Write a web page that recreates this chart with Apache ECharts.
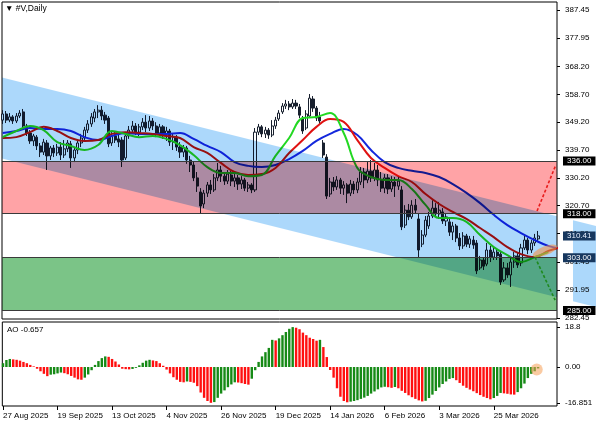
<!DOCTYPE html>
<html><head><meta charset="utf-8">
<script src="https://cdn.jsdelivr.net/npm/echarts@6/dist/echarts.min.js"></script>
<style>html,body{margin:0;padding:0;background:#fff}#c{width:596px;height:425px}</style>
</head><body><div id="c"></div>
<script>
// ---- daily candles (bar index 0 = 27 Aug 2025) ----
const opens = [349.9,352.0,349.9,351.0,349.6,351.3,352.7,347.9,345.5,342.8,
344.1,341.1,339.0,342.1,337.7,340.4,338.7,340.7,338.0,340.1,
341.8,337.0,339.7,342.1,343.8,346.5,348.6,350.6,352.7,353.3,
351.6,350.6,342.1,344.5,343.5,343.1,337.0,344.5,346.5,347.9,
345.8,347.6,349.2,347.2,349.6,347.9,345.5,347.6,345.2,346.2,
342.4,344.1,340.7,339.0,340.4,336.3,334.6,330.2,325.4,321.3,
325.0,327.8,326.1,330.2,332.9,330.8,329.1,331.2,329.1,330.2,
328.1,329.5,326.7,327.8,326.1,345.8,347.6,345.2,346.5,344.8,
347.9,350.3,352.7,354.7,355.4,354.4,355.7,354.4,350.6,347.2,
351.3,357.1,354.0,351.0,342.1,337.3,324.7,328.8,327.1,329.5,
326.7,327.8,325.0,328.1,326.1,328.8,332.2,329.5,332.5,330.2,
332.9,329.5,326.7,330.2,326.4,328.8,327.4,326.1,314.1,319.2,
316.9,320.9,316.2,307.6,310.7,313.8,317.2,319.9,317.9,318.6,
315.5,315.2,311.7,313.8,309.7,307.0,310.4,307.6,309.0,308.0,
299.5,302.2,300.8,305.6,303.2,304.9,304.2,295.4,299.5,297.1,
301.5,303.6,301.2,306.3,309.0,305.6,308.0,309.4];
const highs = [353.3,353.0,352.3,351.6,352.3,353.3,353.7,348.6,346.5,345.2,
344.8,342.1,343.5,343.1,341.1,341.4,341.8,342.4,343.1,343.1,
342.8,340.7,343.1,345.2,347.6,349.9,352.3,353.7,355.0,354.7,
352.7,351.3,345.8,346.2,345.2,344.1,345.5,347.9,349.6,348.9,
348.6,350.6,351.6,351.3,350.6,349.2,348.6,348.2,347.6,346.9,
345.5,344.8,342.4,341.4,341.1,337.7,335.6,332.2,326.7,326.1,
328.8,329.5,331.5,335.3,334.3,332.2,332.9,332.5,331.5,331.2,
330.8,330.2,328.8,328.4,347.2,348.6,348.2,347.6,347.2,349.9,
351.0,353.3,355.7,356.8,356.4,357.1,356.8,355.4,351.3,353.3,
358.8,358.1,354.7,352.7,343.1,338.3,330.2,330.5,330.8,330.2,
329.1,328.4,329.5,329.1,330.2,333.9,333.6,335.6,336.3,335.3,
334.6,332.2,331.5,331.5,330.8,330.5,330.8,327.4,320.9,321.3,
322.6,323.0,317.9,312.4,317.2,318.6,322.6,321.6,322.0,319.9,
318.2,316.5,315.2,314.5,311.4,311.7,311.1,310.4,310.4,309.0,
303.6,303.2,308.0,307.0,306.3,306.0,305.3,301.5,301.2,303.2,
304.9,304.6,307.7,310.4,309.7,309.0,311.1,312.1];
const lows = [348.6,348.9,349.2,348.6,348.9,350.6,347.2,344.5,341.8,341.1,
339.7,337.3,338.0,332.9,336.3,337.3,337.7,336.3,337.0,339.0,
333.6,335.6,338.3,340.7,342.8,345.5,347.6,349.2,350.6,349.9,
348.6,340.7,341.1,342.1,340.7,333.9,336.3,343.5,345.2,344.8,
344.5,346.5,345.8,346.2,346.5,344.1,344.5,343.5,342.8,341.1,
339.7,339.4,337.0,337.3,335.0,332.2,329.1,325.4,318.2,319.9,
323.7,324.7,325.4,329.1,328.8,327.8,328.1,327.4,327.1,326.1,
326.4,325.7,325.4,325.0,325.4,344.8,344.1,343.8,343.5,344.1,
346.9,349.6,352.0,353.7,353.3,353.7,353.7,350.6,345.2,346.5,
350.6,352.7,349.6,348.6,337.0,323.0,323.7,325.7,326.1,324.7,
324.4,321.6,324.0,324.7,325.0,327.8,326.7,328.4,328.8,329.1,
327.4,325.4,325.0,324.7,325.4,323.7,326.1,312.4,313.1,315.8,
316.2,318.2,303.2,306.6,310.0,312.8,316.5,316.9,316.2,314.5,
313.8,310.4,309.0,308.3,305.6,306.0,306.6,306.3,306.0,297.4,
298.8,298.8,300.1,301.5,302.2,302.2,293.7,294.7,296.1,293.0,
299.5,299.5,300.1,305.6,304.2,304.6,307.0,308.7];
const closes = [352.0,349.9,351.0,349.6,351.3,352.3,347.9,345.5,342.8,344.5,
341.1,339.0,342.4,337.7,340.4,338.7,340.7,338.0,340.1,342.1,
337.0,339.7,342.1,343.8,346.5,348.6,351.0,352.7,353.3,351.3,
349.9,341.8,344.5,343.1,342.4,336.3,344.5,346.5,347.9,345.8,
347.6,349.2,347.2,349.6,347.9,345.5,347.6,345.2,346.2,342.4,
344.1,340.7,339.0,340.4,336.3,334.6,330.2,327.4,320.6,325.0,
327.8,326.1,330.2,332.9,330.8,329.1,331.5,329.1,330.2,328.1,
329.5,326.7,327.8,326.1,345.8,347.6,345.2,346.5,344.8,347.9,
349.9,352.3,354.7,355.4,354.4,355.7,354.7,351.6,346.2,352.0,
357.4,354.0,350.6,349.6,338.0,324.0,328.8,327.1,329.5,326.7,
327.8,325.0,328.1,326.1,328.8,332.2,329.5,332.5,330.2,332.9,
329.5,326.7,330.2,326.4,328.8,327.4,329.1,313.5,319.2,316.9,
320.9,319.2,305.6,310.7,315.8,317.2,319.9,317.9,319.2,315.5,
316.9,311.7,313.8,309.7,307.0,310.4,307.6,309.4,307.3,298.5,
302.2,300.1,305.6,303.2,304.9,303.6,294.7,299.5,297.1,301.5,
303.6,300.5,306.3,309.0,305.6,308.0,309.7,310.41];

// ---- Awesome Oscillator ----
const aoValues = [1.8,3.3,3.8,3.6,3.4,3.0,2.4,1.8,1.0,0.3,
-0.8,-2.0,-3.2,-4.3,-3.6,-3.4,-3.0,-2.6,-2.9,-3.4,
-4.2,-5.0,-5.8,-6.0,-5.0,-3.5,-1.5,1.0,2.8,4.2,
5.0,4.8,3.8,2.6,1.2,-0.8,-1.0,-1.1,-0.9,-0.4,
0.8,2.0,3.0,3.4,3.1,2.8,1.8,0.6,-1.2,-3.0,
-4.8,-6.0,-7.0,-7.2,-6.8,-7.0,-7.4,-9.0,-12.0,-14.5,
-16.0,-16.851,-16.5,-14.5,-12.5,-11.0,-9.5,-8.2,-7.2,-7.3,
-7.6,-8.0,-8.3,-5.5,-1.5,2.4,5.0,7.0,9.0,12.8,
12.5,13.5,15.0,16.5,18.0,18.8,18.5,17.8,16.2,15.0,
13.8,13.2,12.4,12.8,9.4,4.7,-1.4,-5.0,-10.0,-14.0,
-16.0,-16.6,-16.3,-16.0,-15.6,-15.0,-14.4,-13.6,-12.5,-11.5,
-10.5,-9.6,-9.3,-9.5,-9.8,-9.4,-10.0,-11.2,-12.2,-13.3,
-14.2,-15.0,-15.7,-16.2,-15.9,-14.6,-13.0,-11.3,-9.6,-8.0,
-6.8,-5.6,-5.2,-6.2,-7.5,-8.8,-9.8,-10.6,-11.4,-12.3,
-13.2,-14.0,-14.6,-15.2,-14.6,-13.6,-12.2,-12.4,-12.6,-12.9,
-13.0,-11.8,-10.0,-7.8,-5.2,-3.2,-2.0,-0.657];

// ---- Alligator lines (sampled every 4 bars, shifted lines run past the last bar) ----
const lineIdx = [0,4,8,12,16,20,24,28,32,36,40,44,48,52,56,60,64,68,72,76,80,84,88,92,96,100,104,108,112,116,120,124,128,132,136,140,144,148,152,156,160,164];
const jaw = [345.5,346.2,347.2,346.9,346.9,346.2,344.1,343.1,344.5,345.5,
345.2,345.2,345.2,345.5,343.5,341.1,339.0,335.6,334.3,333.9,
334.6,336.6,339.4,342.8,345.2,346.9,344.8,339.7,335.6,333.6,
332.6,331.9,330.5,328.1,325.1,321.6,317.6,314.1,311.4,309.0,
307.0,306.0];
const teeth = [343.8,344.1,345.8,347.6,346.2,343.8,342.8,343.1,345.2,345.8,
345.5,345.2,344.5,343.8,340.7,338.7,335.3,332.2,331.2,331.5,
333.6,338.7,343.1,347.6,350.3,349.3,343.1,337.0,333.6,330.8,
328.8,324.7,321.3,318.6,316.2,313.1,310.0,306.6,304.2,303.2,
305.3,306.6];
const lips = [344.1,346.2,347.9,346.5,342.4,341.1,339.7,341.4,346.2,345.2,
344.1,344.5,343.5,341.4,338.0,333.9,331.9,331.9,330.8,331.2,
337.7,343.8,350.6,351.0,352.3,345.5,333.6,330.5,329.5,329.5,
326.4,321.0,316.5,316.5,315.2,310.7,306.6,303.9,301.5,303.2,
304.9,null];

// ---- axis ticks ----
const dateTickIdx = [0,16,32,48,64,80,96,112,128,144];
const dateLabels = ['27 Aug 2025','19 Sep 2025','13 Oct 2025','4 Nov 2025','26 Nov 2025','19 Dec 2025','14 Jan 2026','6 Feb 2026','3 Mar 2026','25 Mar 2026'];
const priceTicks = [387.45,377.95,368.20,358.70,349.20,339.70,330.20,320.70,311.20,301.45,291.95,282.45];
const aoTicks = [18.8, 0, -16.851];
const aoTickLabels = ['18.8','0.00','-16.851'];

// ---- drawn objects ----
const levels = [336.00, 318.00, 303.00, 285.00];
const levelBg = ['#000000','#000000','#17375e','#000000'];
const lastPrice = 310.41;
const zoneLow = [318, 285];
const zoneHigh = [336, 303];
const zoneColors = ['#ffa3a6', '#7bc487'];
const channelIdx = [-1, 175];
const channelTop = [364.65, 313.49];
const channelBottom = [337.03, 285.87];
const arrowUp = [[156.7, 318.9], [162.2, 334.6]];
const arrowDown = [[156.1, 303.2], [162.0, 288.5]];
const highlightMain = [159, 305.3];
const highlightAO = [156.6, -1.2];

const FONT = '"Liberation Sans", Arial, sans-serif';
const X_MIN = -0.2, X_MAX = 162.55;

const chart = echarts.init(document.getElementById('c'), null, {renderer: 'canvas'});

const candleData = opens.map((o, i) => [i, o, closes[i], lows[i], highs[i]]);
const lineData = arr => lineIdx.map((x, k) => [x, arr[k]]);
const aoData = aoValues.map((v, i) => [i, v]);

function channelPoints(api) {
  return [
    api.coord([channelIdx[0], channelTop[0]]),
    api.coord([channelIdx[1], channelTop[1]]),
    api.coord([channelIdx[1], channelBottom[1]]),
    api.coord([channelIdx[0], channelBottom[0]])
  ];
}

const option = {
  backgroundColor: '#ffffff',
  animation: false,
  title: [
    {text: '\u25BC #V,Daily', left: 5, top: 4, padding: 0,
     textStyle: {fontSize: 8.5, fontWeight: 'normal', color: '#000', fontFamily: FONT}},
    {text: 'AO -0.657', left: 7, top: 326, padding: 0,
     textStyle: {fontSize: 8, fontWeight: 'normal', color: '#000', fontFamily: FONT}}
  ],
  grid: [
    {left: 2, right: 39, top: 2, bottom: 106, show: true, borderColor: '#000', borderWidth: 1},
    {left: 2, right: 39, top: 322, bottom: 19, show: true, borderColor: '#000', borderWidth: 1}
  ],
  xAxis: [
    {type: 'value', gridIndex: 0, min: X_MIN, max: X_MAX, show: false, axisLine: {onZero: false}},
    {type: 'value', gridIndex: 1, min: X_MIN, max: X_MAX,
     axisLine: {show: false, onZero: false}, splitLine: {show: false},
     axisTick: {show: true, customValues: dateTickIdx, length: 4, lineStyle: {color: '#000'}},
     axisLabel: {customValues: dateTickIdx, formatter: v => dateLabels[dateTickIdx.indexOf(v)],
       align: 'left', fontSize: 8, margin: 6, color: '#000', fontFamily: FONT}}
  ],
  yAxis: [
    {type: 'value', gridIndex: 0, position: 'right', min: 282.08, max: 390.18,
     axisLine: {show: false, onZero: false}, splitLine: {show: false},
     axisTick: {show: true, customValues: priceTicks, length: 3, lineStyle: {color: '#000'}},
     axisLabel: {customValues: priceTicks, formatter: v => v.toFixed(2), fontSize: 8, margin: 8,
       color: '#000', fontFamily: FONT}},
    {type: 'value', gridIndex: 1, position: 'right', min: -18.35, max: 21.2,
     axisLine: {show: false, onZero: false}, splitLine: {show: false},
     axisTick: {show: true, customValues: aoTicks, length: 3, lineStyle: {color: '#000'}},
     axisLabel: {customValues: aoTicks, formatter: v => aoTickLabels[aoTicks.indexOf(v)], fontSize: 8, margin: 8,
       color: '#000', fontFamily: FONT}}
  ],
  series: [
    {
      type: 'candlestick', xAxisIndex: 0, yAxisIndex: 0, z: 2,
      data: candleData, barWidth: 2.6,
      encode: {x: 0, y: [1, 2, 3, 4]},
      itemStyle: {color: '#ffffff', color0: '#18202e', borderColor: '#18202e', borderColor0: '#18202e', borderWidth: 1}
    },
    {type: 'line', xAxisIndex: 0, yAxisIndex: 0, z: 3, data: lineData(jaw), showSymbol: false, smooth: 0.4,
     lineStyle: {color: '#1428dc', width: 2}},
    {type: 'line', xAxisIndex: 0, yAxisIndex: 0, z: 3, data: lineData(teeth), showSymbol: false, smooth: 0.4,
     lineStyle: {color: '#e01212', width: 2}},
    {type: 'line', xAxisIndex: 0, yAxisIndex: 0, z: 3, data: lineData(lips), showSymbol: false, smooth: 0.4,
     lineStyle: {color: '#22d822', width: 2}},
    {
      type: 'custom', xAxisIndex: 0, yAxisIndex: 0, z: 4, silent: true, clip: true, blendMode: 'multiply',
      data: zoneLow.map((l, k) => [0, l, zoneHigh[k]]),
      encode: {x: 0, y: [1, 2]},
      renderItem: function (params, api) {
        const cs = params.coordSys;
        const yTop = api.coord([0, api.value(2)])[1];
        const yBot = api.coord([0, api.value(1)])[1];
        return {type: 'rect', shape: {x: cs.x, y: yTop, width: cs.width, height: yBot - yTop},
          style: {fill: zoneColors[params.dataIndex]}};
      }
    },
    {
      type: 'custom', xAxisIndex: 0, yAxisIndex: 0, z: 4, silent: true, clip: true, blendMode: 'multiply',
      data: [[channelIdx[0], channelTop[0], channelBottom[0]]],
      encode: {x: 0, y: [1, 2]},
      renderItem: function (params, api) {
        return {type: 'polygon', shape: {points: channelPoints(api)},
          style: {fill: '#acd8fb'}};
      }
    },
    {
      // continuation of the channel drawn in the right margin behind the price scale
      type: 'custom', xAxisIndex: 0, yAxisIndex: 0, z: 4, silent: true, clip: false, blendMode: 'multiply',
      data: [[channelIdx[1], channelTop[1], channelBottom[1]]],
      encode: {x: 0, y: [1, 2]},
      renderItem: function (params, api) {
        const cs = params.coordSys;
        const p = channelPoints(api);
        const xs = cs.x + cs.width + 16;
        const t = (xs - p[0][0]) / (p[1][0] - p[0][0]);
        const yT = p[0][1] + t * (p[1][1] - p[0][1]);
        const yB = p[3][1] + t * (p[2][1] - p[3][1]);
        return {type: 'polygon', shape: {points: [[xs, yT], p[1], p[2], [xs, yB]]},
          style: {fill: '#acd8fb'}};
      }
    },
    {
      // horizontal levels and their price boxes
      type: 'line', xAxisIndex: 0, yAxisIndex: 0, z: 5, data: [], silent: true,
      markLine: {
        silent: true, symbol: ['none', 'none'], z: 5, animation: false,
        label: {position: 'end', distance: 6, formatter: p => Number(p.value).toFixed(2),
          color: '#ffffff', fontSize: 8, fontFamily: FONT, padding: [1, 4, 0, 4], lineHeight: 8},
        data: levels.map((v, k) => ({yAxis: v, lineStyle: {color: '#3a3a3a', width: 1, type: 'solid'},
            label: {backgroundColor: levelBg[k]}}))
          .concat([{yAxis: lastPrice, lineStyle: {color: 'rgba(0,0,0,0)', width: 1},
            label: {backgroundColor: '#17375e', color: '#e8f0ff'}}])
      }
    },
    {
      type: 'scatter', xAxisIndex: 0, yAxisIndex: 0, z: 6, silent: true,
      data: [highlightMain], symbol: 'circle', symbolSize: [26, 9], symbolRotate: 22,
      itemStyle: {color: 'rgba(244,146,74,0.75)'},
      markLine: {
        silent: true, z: 6, animation: false, symbol: ['none', 'arrow'], symbolSize: [0, 8],
        label: {show: false},
        data: [
          [{coord: arrowUp[0], lineStyle: {color: '#e81c1c', type: [3, 2], width: 1.6}}, {coord: arrowUp[1]}],
          [{coord: arrowDown[0], lineStyle: {color: '#1e8a1e', type: [3, 2], width: 1.6}}, {coord: arrowDown[1]}]
        ]
      }
    },
    {
      type: 'bar', xAxisIndex: 1, yAxisIndex: 1, z: 2, data: aoData, barWidth: 2.4,
      itemStyle: {color: p => (p.dataIndex === 0 || aoValues[p.dataIndex] >= aoValues[p.dataIndex - 1]) ? '#168a16' : '#ff1010'}
    },
    {
      type: 'scatter', xAxisIndex: 1, yAxisIndex: 1, z: 6, silent: true,
      data: [highlightAO], symbol: 'circle', symbolSize: 12,
      itemStyle: {color: 'rgba(246,160,90,0.7)'}
    }
  ]
};
chart.setOption(option);
</script>
</body></html>
